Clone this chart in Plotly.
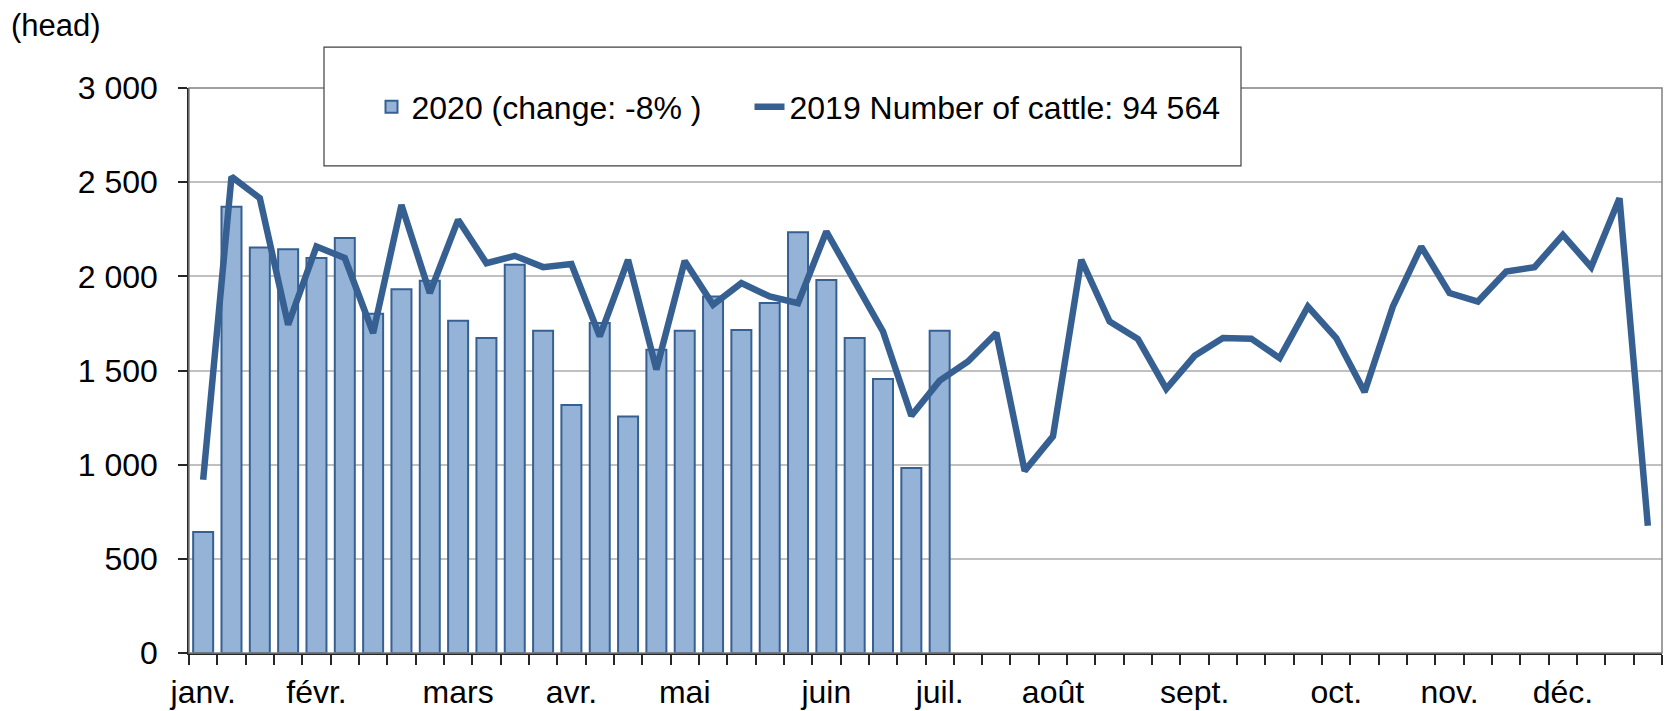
import plotly.graph_objects as go

weeks = list(range(52))
bars_2020 = [643, 2370, 2153, 2144, 2097, 2203, 1801, 1932, 1976, 1764, 1672, 2061, 1711, 1317,
             1752, 1256, 1610, 1711, 1893, 1715, 1858, 2234, 1981, 1672, 1455, 982, 1711]
line_2019 = [920, 2529, 2415, 1743, 2158, 2097, 1699, 2379, 1911, 2300, 2070, 2109, 2049, 2065,
             1681, 2088, 1505, 2082, 1849, 1964, 1893, 1858, 2238, 1981, 1707, 1260, 1446, 1548,
             1699, 967, 1150, 2088, 1760, 1667, 1402, 1578, 1672, 1669, 1566, 1840, 1672, 1386,
             1840, 2158, 1911, 1866, 2026, 2049, 2220, 2049, 2415, 676]
month_pos = [0, 4, 9, 13, 17, 22, 26, 30, 35, 40, 44, 48]
month_lbl = ["janv.", "févr.", "mars", "avr.", "mai", "juin", "juil.", "août", "sept.", "oct.", "nov.", "déc."]
name_2020 = "2020 (change: -8% )"
name_2019 = "2019 Number of cattle: 94 564"

FONT = "Liberation Sans, Arial, sans-serif"
FS = 32
W, H = 1667, 711
L, R, T, B = 189, 5, 88, 57.5
pw, ph = W - L - R, H - T - B

def px_x(x):
    return (x - L) / pw

def px_y(y):
    return 1 + (T - y) / ph

fig = go.Figure()
fig.add_trace(go.Bar(x=weeks[:len(bars_2020)], y=bars_2020, name=name_2020, legend="legend",
                     marker=dict(color="#95B3D7", line=dict(color="#376092", width=2))))
fig.add_trace(go.Scatter(x=weeks, y=line_2019, name=name_2019, mode="lines", legend="legend2",
                         line=dict(color="#376092", width=6.5)))

legend_common = dict(orientation="h", xanchor="left", yanchor="middle", y=px_y(107),
                     bgcolor="rgba(0,0,0,0)", borderwidth=0,
                     font=dict(family=FONT, size=FS, color="black"))

fig.update_layout(
    width=W, height=H,
    margin=dict(l=L, r=R, t=T, b=B, pad=0, autoexpand=False),
    paper_bgcolor="white", plot_bgcolor="white",
    font=dict(family=FONT, size=FS, color="black"),
    separators=". ",
    bargap=0.294,
    showlegend=True,
    legend=dict(x=px_x(412 - 40.5), **legend_common),
    legend2=dict(x=px_x(790 - 40.5), **legend_common),
    xaxis=dict(range=[-0.5, 51.5], tickmode="array", tickvals=month_pos, ticktext=month_lbl,
               ticks="", showgrid=False, zeroline=False, showline=True, linecolor="#262626",
               linewidth=1.5, ticklabelstandoff=10, automargin=False,
               minor=dict(ticks="outside", ticklen=10, tickcolor="#262626", tickwidth=1.5,
                          tick0=-0.5, dtick=1, showgrid=False)),
    yaxis=dict(range=[0, 3000], dtick=500, tickformat=",d", ticks="outside", ticklen=9,
               tickcolor="#262626", tickwidth=1.5, showgrid=True, gridcolor="#C0C0C0",
               gridwidth=2, zeroline=False, showline=True, linecolor="#262626", linewidth=1.5,
               ticklabelstandoff=14, automargin=False),
    shapes=[
        dict(type="rect", xref="paper", yref="paper", x0=0, x1=1, y0=0, y1=1,
             line=dict(color="#808080", width=1.5), fillcolor="rgba(0,0,0,0)", layer="above"),
        dict(type="rect", xref="paper", yref="paper", x0=px_x(324), x1=px_x(1241),
             y0=px_y(166), y1=px_y(47), line=dict(color="#404040", width=1.2),
             fillcolor="white", layer="above"),
    ],
    annotations=[
        dict(text="(head)", xref="paper", yref="paper", x=px_x(9), y=px_y(25), xanchor="left",
             yanchor="middle", showarrow=False, font=dict(family=FONT, size=31, color="black")),
    ],
)

fig.write_html("out.html", config={"displayModeBar": False},
               post_script="document.body.style.margin='0';document.body.style.overflow='hidden';")
